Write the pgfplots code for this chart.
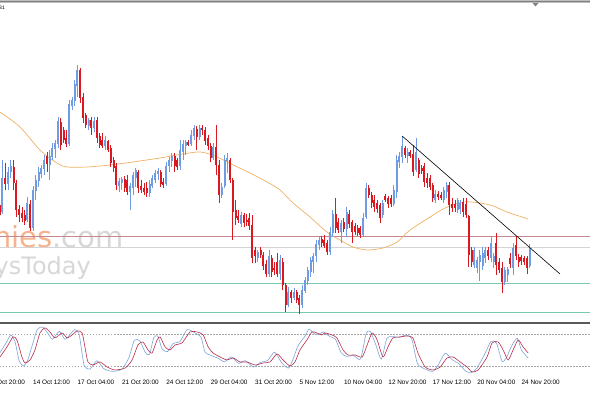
\documentclass[border=0pt]{standalone}
\usepackage{pgfplots}
\pgfplotsset{compat=1.18}
\usepackage{pgfplotstable}
\usepackage{fontspec}
\setmainfont{Liberation Sans}
\newfontfamily\wmfont{DejaVu Sans}
\definecolor{upcol}{RGB}{110,155,225}
\definecolor{dncol}{RGB}{218,24,32}
\definecolor{macol}{RGB}{238,178,100}
\definecolor{pinkline}{RGB}{196,136,146}
\definecolor{grayline}{RGB}{212,212,212}
\definecolor{tealline}{RGB}{120,200,178}
\definecolor{stblue}{RGB}{125,165,220}
\definecolor{stred}{RGB}{185,45,70}
\definecolor{wmorange}{RGB}{246,178,140}
\definecolor{wmgray}{RGB}{215,215,215}

% columns: bar index, up (1) / down (0), open, high, low, close
\pgfplotstableread{
i d o h l c
-12 0 195 202 180 185
-11 1 188 240 186 222
-10 0 222 237 210 216
-9 1 216 233 210 228
-8 1 228 240 222 234
-7 0 233 240 210 217
-6 0 217 220 183 190
-5 0 191 195 178 185
-4 0 187 193 178 182
-3 0 185 190 175 179
-2 1 180 203 178 197
-1 0 196 200 169 172
0 1 172 214 169 210
1 1 209 225 200 220
2 1 219 233 213 228
3 1 226 235 222 232
4 1 231 245 225 240
5 0 244 248 228 236
6 1 235 250 220 244
7 1 243 257 240 252
8 1 251 260 242 257
9 1 256 283 252 279
10 0 278 282 250 255
11 0 270 273 257 260
12 0 262 270 253 256
13 1 256 300 254 296
14 1 294 303 290 300
15 1 299 320 294 316
16 1 314 335 303 330
17 0 330 332 297 302
18 0 303 307 277 282
19 0 285 287 272 275
20 1 274 282 270 280
21 0 280 283 265 272
22 1 272 283 268 279
23 0 280 283 257 262
24 0 264 267 252 255
25 0 260 267 252 254
26 1 254 264 250 260
27 0 259 260 248 250
28 0 252 255 233 237
29 0 240 243 228 232
30 0 234 237 210 215
31 1 214 222 208 219
32 1 217 223 210 221
33 0 221 224 208 212
34 0 220 225 205 208
35 1 208 217 190 214
36 1 212 228 205 225
37 1 222 232 213 230
38 0 228 230 207 212
39 0 214 220 207 210
40 0 212 217 205 208
41 0 212 218 203 207
42 1 207 220 203 216
43 1 214 225 212 222
44 1 220 230 217 227
45 1 226 232 220 229
46 0 228 230 213 216
47 0 218 222 212 215
48 1 216 238 214 234
49 1 234 243 228 240
50 1 239 247 233 244
51 0 244 247 228 234
52 0 240 242 230 233
53 1 234 260 230 250
54 1 248 260 240 256
55 1 254 260 245 258
56 0 258 260 254 255
57 1 256 270 254 265
58 1 264 275 260 272
59 0 271 274 250 263
60 1 263 275 260 272
61 0 272 275 265 270
62 0 270 273 255 259
63 0 262 265 250 254
64 0 254 257 238 242
65 1 242 257 240 253
66 0 253 275 225 235
67 0 235 240 197 205
68 1 205 217 202 213
69 1 214 245 212 240
70 1 239 247 227 242
71 0 240 242 217 220
72 0 220 222 160 188
73 0 190 200 175 182
74 0 184 190 177 180
75 1 176 188 173 185
76 0 185 187 173 177
77 0 180 186 174 178
78 0 182 187 170 174
79 0 175 185 137 142
80 0 150 153 137 144
81 1 142 150 138 148
82 0 150 153 142 145
83 0 145 148 130 134
84 0 136 140 123 126
85 1 126 150 123 144
86 0 142 145 123 128
87 0 132 138 125 130
88 0 138 147 123 126
89 1 126 145 120 140
90 0 138 142 110 115
91 0 115 117 88 95
92 1 95 113 93 108
93 0 108 110 97 102
94 1 102 112 100 108
95 0 108 110 97 100
96 0 102 105 86 95
97 1 95 115 92 110
98 1 109 123 107 120
99 1 119 133 115 130
100 1 128 143 123 140
101 1 138 147 127 144
102 1 144 160 138 156
103 1 155 164 150 160
104 0 161 164 153 157
105 0 160 165 152 154
106 0 157 160 145 148
107 1 148 173 145 168
108 1 167 190 163 186
109 0 186 202 167 172
110 0 178 182 167 170
111 1 168 180 157 177
112 0 178 182 168 171
113 1 171 193 163 188
114 0 186 190 172 176
115 0 178 180 157 168
116 0 174 177 165 168
117 0 172 175 164 167
118 0 172 174 162 165
119 1 165 187 163 182
120 1 183 217 181 212
121 0 212 215 202 205
122 0 205 208 192 197
123 0 200 205 188 193
124 0 197 200 187 191
125 0 195 197 177 182
126 1 185 200 182 197
127 0 204 206 198 200
128 0 202 204 192 196
129 0 202 205 193 196
130 1 196 215 194 210
131 1 208 245 202 240
132 1 238 248 232 244
133 1 243 264 237 254
134 0 252 254 242 245
135 1 244 252 237 248
136 0 248 250 242 244
137 0 246 255 224 228
138 1 230 262 228 248
139 0 240 242 222 226
140 0 232 235 226 229
141 0 234 237 213 218
142 0 222 227 212 217
143 0 222 225 210 213
144 0 215 217 198 202
145 1 200 210 197 206
146 0 206 209 200 203
147 0 205 208 200 202
148 1 200 213 197 210
149 1 208 218 202 215
150 0 215 218 185 195
151 0 196 202 188 192
152 0 196 200 188 192
153 1 190 202 187 200
154 1 191 200 186 197
155 0 198 202 183 188
156 0 196 202 182 185
157 0 184 185 133 145
158 0 150 153 133 138
159 1 135 153 132 150
160 1 132 143 127 140
161 1 138 150 119 145
162 1 134 153 130 147
163 1 142 153 137 150
164 0 150 153 140 144
165 1 142 164 138 157
166 1 138 147 132 144
167 0 157 167 125 135
168 0 138 142 127 130
169 0 132 138 107 118
170 1 118 133 115 130
171 1 125 133 118 131
172 0 142 147 132 136
173 1 132 157 125 152
174 0 155 164 140 144
175 0 143 146 133 138
176 0 143 145 135 139
177 0 142 144 135 138
178 0 142 144 126 132
179 1 134 156 132 152
}\bars

\begin{document}
\begin{tikzpicture}
% top frame
\fill[black!25] (0pt,390pt) rectangle (590pt,393pt);
\draw[black!50, line width=0.8pt] (0pt,391.3pt) -- (590pt,391.3pt);
\fill[black!50] (532.5pt,390pt) -- (538.5pt,390pt) -- (535.5pt,386.5pt) -- cycle;
\node[anchor=north east, inner sep=0pt, font=\fontsize{5}{5}\selectfont] at (5pt,387.5pt) {1.1631};
% watermark
\node[anchor=base east, inner sep=0pt, font=\wmfont\fontsize{29}{29}\selectfont] at (124pt,145pt)
  {\textcolor{wmorange}{Economies}\textcolor{wmgray}{.com}};
\node[anchor=base east, inner sep=0pt, font=\wmfont\fontsize{24}{24}\selectfont, text=wmgray] at (91pt,118pt)
  {EconomysToday};
% panel separator
\draw[black!65, line width=1.8pt] (0pt,70pt) -- (590pt,70pt);

\begin{axis}[
  at={(0pt,72pt)}, anchor=south west,
  scale only axis, width=590pt, height=316pt,
  xmin=-11.9, xmax=200.7, ymin=79, ymax=395,
  hide axis,
]
% horizontal levels
\addplot[grayline, line width=0.8pt] coordinates {(-12,153) (201,153)};
\addplot[pinkline, line width=0.8pt] coordinates {(-12,164) (201,164)};
\addplot[tealline, line width=0.8pt] coordinates {(-12,117) (201,117)};
\addplot[tealline, line width=0.8pt] coordinates {(-12,88) (201,88)};
% moving average
\addplot[macol, line width=0.7pt, smooth, tension=0.5] coordinates {
(-11.9,288) (-4.7,273) (2.5,250) (8.6,237) (12.3,233) (19.5,233) (27.7,235)
(36.0,238) (45.8,242) (51.9,245) (60.2,248) (66.3,243) (72.1,235) (78.2,227)
(84.3,218) (89.0,210) (93.7,197) (99.8,183) (105.9,168) (110.6,160) (115.3,153)
(120.4,150) (126.1,152) (131.2,158) (135.9,170) (143.1,183) (148.5,192)
(154.9,198) (161.1,197) (165.8,194) (170.8,188) (178.4,181)};
% wicks
\addplot[upcol, line width=0.7pt, mark=none, -,
  restrict expr to domain={\thisrow{d}}{0.5:1.5},
  quiver={u=0, v=\thisrow{h}-\thisrow{l}}]
  table[x=i, y=l] {\bars};
\addplot[dncol, line width=0.7pt, mark=none, -,
  restrict expr to domain={\thisrow{d}}{-0.5:0.5},
  quiver={u=0, v=\thisrow{h}-\thisrow{l}}]
  table[x=i, y=l] {\bars};
% bodies
\addplot[upcol, line width=2pt, mark=none, -,
  restrict expr to domain={\thisrow{d}}{0.5:1.5},
  quiver={u=0, v={max(abs(\thisrow{c}-\thisrow{o}),1.2)}}]
  table[x=i, y=o] {\bars};
\addplot[dncol, line width=2pt, mark=none, -,
  restrict expr to domain={\thisrow{d}}{-0.5:0.5},
  quiver={u=0, v={max(abs(\thisrow{o}-\thisrow{c}),1.2)}}]
  table[x=i, y=c] {\bars};
% trend line
\addplot[black, line width=0.6pt] coordinates {(133.0,264) (189.9,126)};
\end{axis}

\begin{axis}[
  at={(0pt,16.3pt)}, anchor=south west,
  scale only axis, width=590pt, height=53.4pt,
  xmin=-11.9, xmax=200.7, ymin=0, ymax=100,
  axis line style={draw=none}, ytick=\empty,
  xtick={0,16,...,176},
  xticklabels={14 Oct 12:00, 17 Oct 04:00, 21 Oct 20:00, 24 Oct 12:00, 29 Oct 04:00, 31 Oct 20:00, 5 Nov 12:00, 10 Nov 04:00, 12 Nov 20:00, 17 Nov 12:00, 20 Nov 04:00, 24 Nov 20:00},
  xticklabel style={anchor=north west, inner sep=0pt, font=\fontsize{6.4}{7}\selectfont, yshift=-3pt},
  xtick style={draw=none},
  clip=false,
]
\addplot[black!35, line width=0.5pt, dash pattern=on 1.5pt off 1.5pt] coordinates {(-11.9,80) (200.7,80)};
\addplot[black!35, line width=0.5pt, dash pattern=on 1.5pt off 1.5pt] coordinates {(-11.9,20) (200.7,20)};
\addplot[stblue, line width=0.6pt, smooth, tension=0.4] coordinates {
(-11.9,45) (-9.5,65) (-8,78) (-6.5,66) (-5,30) (-3.5,20) (-2,30) (-0.5,55) (1.5,88)
(3.5,93) (5.5,80) (7,70) (9.5,85) (11.5,70) (13.5,80) (15,88) (16.5,82) (17.5,50)
(18.5,20) (20.5,14) (23,30) (25.5,15) (28.5,10) (32,14) (34.5,35) (36.5,68) (38.5,67)
(40.5,45) (42,42) (43.5,73) (45,76) (46.5,52) (48.5,47) (50.5,62) (53,66) (55.5,88)
(58,83) (60.5,74) (62,46) (64,40) (66.5,35) (69,28) (71.5,37) (74,25) (76.5,30)
(79.5,18) (82,27) (84.5,30) (87,46) (89.5,27) (92,16) (93.5,30) (95.5,58) (98,76)
(99.5,89) (101.5,80) (103.5,80) (104.5,84) (107,75) (109,70) (111,45) (113,38)
(115.5,40) (118,33) (120,80) (121.5,85) (123.5,60) (125.5,33) (127.5,72) (129.5,75)
(132,74) (134.5,78) (136.5,70) (138.5,25) (141,15) (144,10) (146,22) (148.5,44)
(151,32) (153.5,24) (156,10) (158,8) (160,16) (163,45) (165,66) (167,63) (169,29)
(170.5,35) (172.5,58) (174.5,72) (176,50) (178.4,35)};
\addplot[stred, line width=0.6pt, smooth, tension=0.4] coordinates {
(-11.9,36.9) (-9.4,55.7) (-7.2,74.4) (-5.8,68.8) (-4.0,36.9) (-2.9,25.7) (-1.1,31.3)
(0.7,50.1) (2.5,81.9) (4.3,91.3) (6.1,83.8) (7.9,72.6) (10.5,81.9) (12.3,72.6)
(14.1,78.2) (15.9,85.7) (17.7,81.9) (18.7,55.7) (19.8,27.6) (21.6,21.9) (24.1,27.6)
(26.7,18.2) (29.5,12.6) (33.2,16.3) (35.7,31.3) (37.8,59.4) (39.6,65.1) (41.4,50.1)
(42.9,44.4) (44.7,68.8) (45.8,74.4) (47.6,55.7) (49.4,50.1) (51.2,59.4) (53.7,63.2)
(56.6,83.8) (59.1,83.8) (61.3,78.2) (63.1,55.7) (64.9,44.4) (67.4,36.9) (69.9,31.3)
(72.1,35.1) (74.6,27.6) (77.1,27.6) (80.0,21.9) (82.9,25.7) (85.4,27.6) (87.9,42.6)
(90.1,31.3) (92.6,20.1) (94.4,27.6) (96.2,50.1) (98.7,68.8) (100.5,83.8) (102.3,81.9)
(104.1,78.2) (105.2,81.9) (107.7,78.2) (109.5,72.6) (111.7,50.1) (113.5,40.7)
(116.0,40.7) (118.6,36.9) (120.4,59.4) (122.2,81.9) (124.0,68.8) (126.1,36.9)
(127.9,55.7) (129.7,72.6) (132.3,74.4) (134.8,76.3) (136.9,72.6) (138.7,44.4)
(141.3,18.2) (144.1,12.6) (146.7,18.2) (149.2,35.1) (151.4,36.9) (153.9,27.6)
(156.4,18.2) (158.2,8.8) (160.4,12.6) (163.6,36.9) (165.4,63.2) (167.6,65.1)
(169.4,50.1) (171.2,31.3) (173.0,50.1) (174.8,68.8) (176.6,55.7) (178.4,44.4)};
\node[anchor=north west, inner sep=0pt, font=\fontsize{6.4}{7}\selectfont, yshift=-3pt] at (axis cs:-16,0) {11 Oct 20:00};
\end{axis}
\pgfresetboundingbox
\useasboundingbox (0pt,0pt) rectangle (590pt,393pt);
\end{tikzpicture}
\end{document}
